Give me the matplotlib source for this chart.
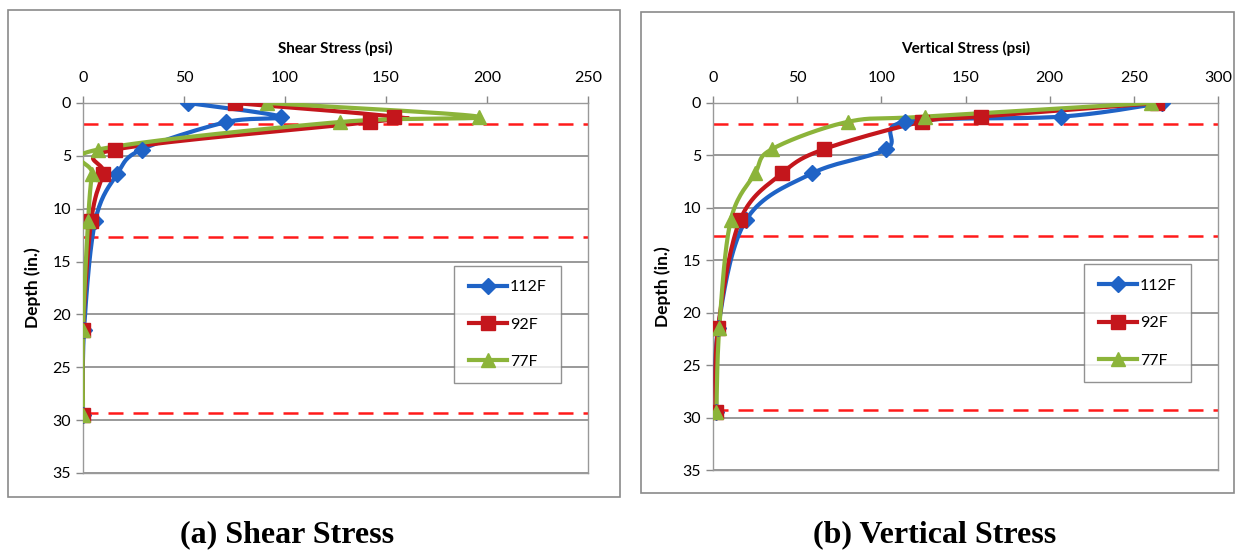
import numpy as np
import matplotlib
matplotlib.use("Agg")
import matplotlib.pyplot as plt
from matplotlib.patches import Rectangle

plt.rcParams["font.family"] = ["Lato", "DejaVu Sans"]

# ── Data ──────────────────────────────────────────────────────────────────────
depth = [0, 1.3, 1.8, 4.4, 6.7, 11.2, 21.5, 29.5]
series_names = ["112F", "92F", "77F"]

shear_112 = [52, 98, 71, 29, 17, 6, 0.5, 0]
shear_92 = [75, 154, 142, 16, 10, 4, 0, 0]
shear_77 = [91, 196, 127, 7.5, 4.5, 2.5, 0, 0]

vert_112 = [267, 207, 114, 103, 59, 19.5, 3, 2]
vert_92 = [264, 159, 124, 66, 41, 16, 3, 1.5]
vert_77 = [260, 126, 80, 35, 25, 10.5, 3.7, 2]

layer_depths = [2.0, 12.7, 29.3]

colors = ["#1f63c6", "#c4161c", "#8cb43a"]
markers = ["D", "s", "^"]
msizes = [8, 10, 10]

W, H = 1239, 552


def smooth(x, y, sx, sy, n=20):
    """Excel-style smoothed line (Catmull-Rom) computed in pixel space."""
    px = np.asarray(x, float) * sx
    py = np.asarray(y, float) * sy
    P = np.column_stack([px, py])
    P = np.vstack([P[0], P, P[-1]])
    out = []
    t = np.linspace(0, 1, n)[:, None]
    for i in range(1, len(P) - 2):
        p0, p1, p2, p3 = P[i - 1], P[i], P[i + 1], P[i + 2]
        c1 = p1 + (p2 - p0) / 6
        c2 = p2 - (p3 - p1) / 6
        seg = ((1 - t) ** 3) * p1 + 3 * ((1 - t) ** 2) * t * c1 \
            + 3 * (1 - t) * t ** 2 * c2 + t ** 3 * p2
        out.append(seg)
    out = np.vstack(out)
    return out[:, 0] / sx, out[:, 1] / sy


def draw_panel(box, values, xmax, xlabel):
    x0, y0, x1, y1 = box
    ax = fig.add_axes([x0 / W, 1 - y1 / H, (x1 - x0) / W, (y1 - y0) / H])
    sx = (x1 - x0) / xmax
    sy = (y1 - y0) / 35.0
    handles = []
    for vals, c, m, ms, name in zip(values, colors, markers, msizes, series_names):
        xs, ys = smooth(vals, depth, sx, sy)
        ax.plot(xs, ys, color=c, lw=3.0, solid_capstyle="round", zorder=3)
        ax.plot(vals, depth, ls="none", marker=m, ms=ms, color=c, zorder=4)
        h, = ax.plot([], [], color=c, lw=3.0, marker=m, ms=ms, label=name)
        handles.append(h)
    for d in layer_depths:
        ax.axhline(d, color="#ff1a1a", lw=1.8, ls=(0, (6, 4)), zorder=2)

    ax.set_xlim(0, xmax)
    ax.set_ylim(35, 0)
    ax.set_yticks(range(0, 36, 5))
    ax.set_xticks(range(0, xmax + 1, 50))
    ax.xaxis.tick_top()
    ax.xaxis.set_label_position("top")
    ax.set_xlabel(xlabel, fontsize=11, fontweight="bold", labelpad=13)
    ax.set_ylabel("Depth (in.)", fontsize=12.5, fontweight="bold", labelpad=8)
    ax.tick_params(axis="both", labelsize=11.5, color="#888888", length=5, width=1)
    ax.tick_params(axis="x", pad=8)
    ax.grid(axis="y", color="#888888", lw=1.2)
    ax.set_axisbelow(True)
    for s in ax.spines.values():
        s.set_color("#999999")
        s.set_linewidth(1.0)

    leg = ax.legend(handles=handles, loc="upper left", bbox_to_anchor=(0.735, 0.56),
                    fontsize=11.5, frameon=True, fancybox=False, labelspacing=1.45,
                    handlelength=2.4, handletextpad=0.2, borderpad=0.9,
                    borderaxespad=0)
    leg.get_frame().set_edgecolor("#777777")
    leg.get_frame().set_linewidth(1.0)
    return ax


fig = plt.figure(figsize=(W / 100, H / 100), dpi=100)

# outer chart frames
for fx0, fy0, fx1, fy1 in [(8, 10, 620, 497), (641, 12, 1234, 493)]:
    fig.patches.append(Rectangle((fx0 / W, 1 - fy1 / H), (fx1 - fx0) / W, (fy1 - fy0) / H,
                                 transform=fig.transFigure, fill=False,
                                 edgecolor="#8a8a8a", lw=1.2))

draw_panel((83, 103, 588, 473), [shear_112, shear_92, shear_77], 250, "Shear Stress (psi)")
draw_panel((713, 103, 1218, 470), [vert_112, vert_92, vert_77], 300, "Vertical Stress (psi)")

fig.text(287 / W, 1 - 535 / H, "(a) Shear Stress", ha="center", va="center",
         family="Liberation Serif", fontweight="bold", fontsize=23)
fig.text(935 / W, 1 - 535 / H, "(b) Vertical Stress", ha="center", va="center",
         family="Liberation Serif", fontweight="bold", fontsize=23)

fig.savefig("out.png", dpi=100)
